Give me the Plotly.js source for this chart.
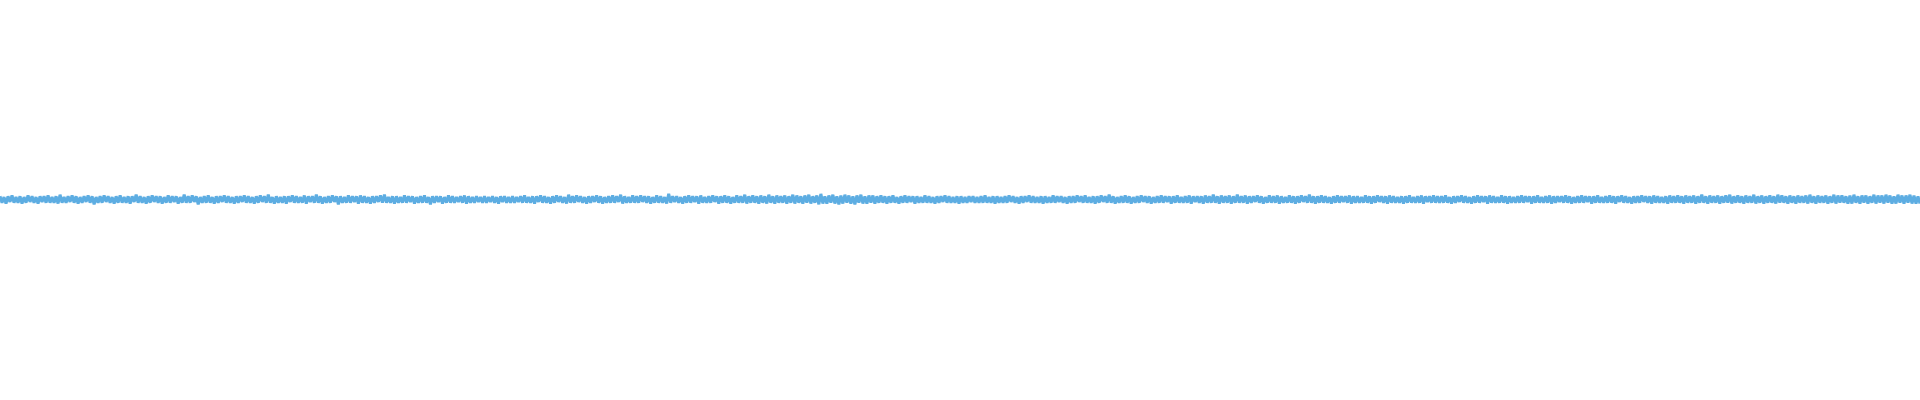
<!DOCTYPE html>
<html>
<head>
<meta charset="utf-8">
<script src="https://cdn.plot.ly/plotly-3.0.1.min.js"></script>
<style>
  html, body { margin: 0; padding: 0; background: #fff; }
  #chart_area { width: 1920px; height: 400px; }
</style>
</head>
<body>
<div id="chart_area"></div>
<script>
// waveform samples in eight pieces (offset from centre, px)
var seg1 = [4,-4,3,-5,4,-3,5,-4,3,-4,4,-5,3,-4,5,-3,4,-4,3,-5,
            4,-3,4,-4,5,-4,3,-4,4,-5,6,-4,3,-4,4,-3,5,-4,4,-5,
            3,-4,4,-3,5,-4,4,-6,3,-4,4,-4,5,-3,4,-4,3,-5,4,-4,
            5,-4,3,-4,4,-5,4,-3,6,-4,4,-4,3,-5,4,-4,5,-3,4,-4,
            4,-5,3,-4,5,-4,4,-3,4,-5,3,-4,6,-4,4,-4,5,-3,4,-6,
            3,-4,4,-4,5,-4,3,-5,4,-4,4,-3,5,-4,4,-4,3,-5,4,-4];
var seg2 = [4,-3,5,-4,4,-4,3,-5,4,-4,5,-3,4,-4,6,-4,3,-5,4,-4,
            3,-4,4,-5,4,-3,5,-4,4,-4,3,-4,5,-5,4,-3,4,-4,6,-4,
            4,-5,3,-4,4,-4,5,-3,4,-6,4,-4,3,-4,5,-4,4,-3,4,-5,
            5,-4,4,-4,3,-5,4,-4,4,-3,5,-4,6,-4,3,-4,4,-5,4,-4,
            3,-4,5,-4,4,-3,4,-5,3,-4,4,-4,5,-4,3,-6,4,-4,4,-3,
            4,-5,3,-4,5,-4,4,-4,3,-3,4,-4,5,-5,4,-4,3,-4,4,-3];
var seg3 = [3,-4,4,-4,3,-3,4,-4,3,-5,4,-3,4,-4,3,-4,4,-4,3,-3,
            4,-4,5,-4,3,-4,4,-5,4,-3,5,-4,4,-4,3,-5,4,-4,5,-3,
            4,-4,3,-5,6,-4,4,-4,5,-3,4,-4,3,-5,4,-4,4,-3,5,-4,
            4,-5,3,-4,4,-4,5,-4,4,-3,6,-5,4,-4,3,-4,5,-4,4,-4,
            5,-3,4,-4,4,-5,3,-4,5,-4,4,-4,3,-5,7,-4,4,-3,4,-4,
            3,-5,4,-4,5,-4,4,-3,4,-5,5,-4,3,-4,4,-4,5,-3,4,-5];
var seg4 = [4,-4,5,-4,4,-5,3,-4,5,-4,4,-4,6,-5,4,-4,5,-4,4,-5,
            5,-4,4,-5,6,-4,4,-5,5,-4,4,-4,5,-5,4,-4,6,-5,5,-4,
            4,-5,5,-4,6,-5,4,-4,5,-6,7,-5,4,-5,5,-4,6,-5,4,-6,
            5,-5,6,-4,5,-5,4,-6,5,-4,6,-5,4,-5,5,-4,5,-5,4,-4,
            5,-4,4,-5,4,-4,5,-4,3,-5,4,-4,5,-4,4,-3,4,-5,4,-4,
            3,-4,5,-4,4,-4,3,-5,4,-4,4,-3,5,-4,4,-4,3,-4,4,-5];
var seg5 = [4,-4,3,-4,4,-3,4,-4,3,-4,4,-4,5,-4,3,-4,4,-5,4,-4,
            3,-4,4,-4,5,-3,4,-4,3,-5,4,-4,4,-3,5,-4,4,-4,3,-4,
            4,-5,4,-4,3,-4,5,-4,4,-3,4,-4,3,-5,4,-4,4,-4,5,-3,
            4,-4,5,-4,3,-4,4,-5,4,-4,5,-3,4,-4,6,-4,4,-5,3,-4,
            4,-4,5,-4,4,-5,3,-4,4,-4,5,-3,4,-4,4,-5,3,-4,4,-4,
            5,-4,4,-3,4,-5,4,-4,5,-4,3,-4,4,-4,5,-5,4,-3,4,-4];
var seg6 = [4,-5,5,-4,4,-4,6,-4,4,-5,5,-4,4,-4,5,-5,4,-4,6,-4,
            4,-4,5,-5,4,-4,4,-3,5,-4,4,-5,3,-4,5,-4,4,-4,5,-5,
            4,-4,3,-4,5,-4,4,-5,4,-4,5,-3,4,-4,6,-4,4,-5,4,-4,
            5,-4,4,-4,3,-5,4,-4,5,-4,4,-3,4,-4,5,-5,4,-4,4,-4,
            3,-4,5,-4,4,-5,4,-4,5,-3,4,-4,4,-5,5,-4,4,-4,3,-4,
            4,-5,4,-4,5,-4,3,-4,4,-4,5,-5,4,-3,4,-4,5,-4,4,-4];
var seg7 = [4,-4,5,-4,3,-5,4,-4,4,-3,5,-4,4,-4,3,-5,4,-4,5,-4,
            4,-3,4,-5,5,-4,4,-4,3,-4,5,-4,4,-5,4,-4,3,-4,4,-4,
            5,-4,4,-3,4,-5,4,-4,5,-4,3,-4,4,-4,5,-5,4,-4,4,-3,
            4,-4,5,-4,4,-5,3,-4,4,-4,5,-4,4,-3,4,-5,4,-4,5,-4,
            3,-4,4,-4,5,-4,4,-5,4,-3,5,-4,4,-4,3,-5,4,-4,4,-4,
            5,-3,4,-4,4,-5,5,-4,4,-4,3,-4,4,-5,5,-4,4,-4,5,-4];
var seg8 = [4,-5,5,-4,4,-4,5,-5,4,-4,6,-4,4,-5,5,-4,4,-4,5,-5,
            4,-4,5,-4,6,-5,4,-4,5,-4,4,-5,5,-4,4,-4,6,-5,4,-4,
            5,-5,4,-4,5,-4,4,-5,6,-4,5,-4,4,-5,5,-4,4,-5,5,-4,
            4,-4,5,-5,6,-4,4,-5,5,-4,4,-4,5,-5,4,-4,6,-5,5,-4,
            5,-4,4,-5,5,-5,6,-4,4,-5,5,-4,5,-5,4,-4,6,-5,5,-4,
            5,-5,6,-4,5,-5,4,-5,6,-4,5,-5,5,-4,6,-5,5,-5,4,-5];

var signal = [].concat(seg1, seg2, seg3, seg4, seg5, seg6, seg7, seg8);
var sampleIndex = signal.map(function (v, i) { return i; });

var trace0 = {
  type: 'scatter',
  mode: 'lines',
  x: sampleIndex,
  y: signal,
  line: { color: '#5dade2', width: 3 },
  hoverinfo: 'skip'
};

var layout = {
  width: 1920,
  height: 400,
  margin: { l: 0, r: 0, t: 0, b: 0 },
  showlegend: false,
  paper_bgcolor: '#ffffff',
  plot_bgcolor: '#ffffff',
  xaxis: { range: [0, signal.length - 1], showgrid: false, zeroline: false, visible: false },
  yaxis: { range: [-250.6, 249.4], showgrid: false, zeroline: false, visible: false }
};

var config = { displayModeBar: false, staticPlot: true };

Plotly.newPlot('chart_area', [trace0], layout, config);
</script>
</body>
</html>
